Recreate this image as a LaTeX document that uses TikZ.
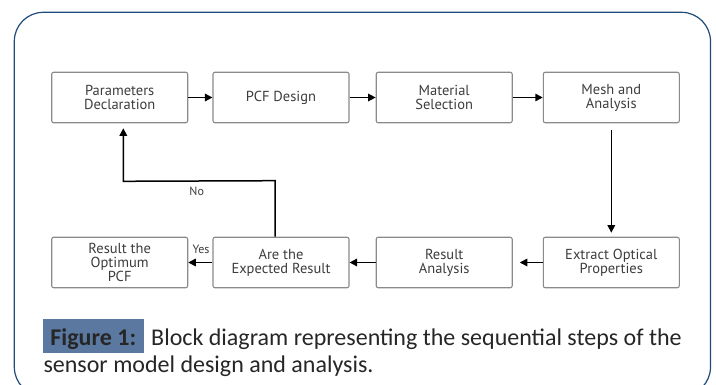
\documentclass[tikz,border=0pt]{standalone}
\usepackage{fontspec}
\setmainfont{Carlito}
\newfontfamily\boxfont{PT Sans}
\usetikzlibrary{arrows.meta,calc,positioning}
\definecolor{framenavy}{HTML}{1F4A7C}
\definecolor{capblue}{HTML}{5A78A0}
\definecolor{boxgray}{HTML}{8A8A8A}
\definecolor{textgray}{HTML}{3C3C3C}
\definecolor{captext}{HTML}{262626}

\begin{document}
\begin{tikzpicture}[x=1pt, y=-1pt, >={Triangle[length=7.5pt,width=7.5pt]},
  stepbox/.style={draw=boxgray, line width=1.1pt, rounded corners=2pt,
    minimum width=136pt, minimum height=50.5pt, inner sep=0pt, align=center,
    text=textgray, font=\boxfont\fontsize{14.5}{14}\selectfont},
  flow/.style={->, line width=1.5pt, black},
  tag/.style={text=textgray, font=\boxfont\fontsize{12}{12}\selectfont, inner sep=0pt}]
  \useasboundingbox (0,0) rectangle (716,385);
  % outer frame, open at the bottom
  \begin{scope}
    \clip (0,0) rectangle (716,385);
    \draw[framenavy, line width=1.2pt, rounded corners=29pt] (14.3,12.3) rectangle (710.5,396);
  \end{scope}
  % top row
  \node[stepbox] (param) at (119.7,97.5) {Parameters\\Declaration};
  \node[stepbox] (design) at (281,97.5) {PCF Design};
  \node[stepbox] (material) at (444.2,97.5) {Material\\Selection};
  \node[stepbox] (mesh) at (611.3,97.5) {Mesh and\\Analysis};
  % bottom row
  \node[stepbox] (optimum) at (119.7,262.5) {Result the\\Optimum\\PCF};
  \node[stepbox] (expected) at (281,262.5) {Are the\\Expected Result};
  \node[stepbox] (resana) at (444.2,262.5) {Result\\Analysis};
  \node[stepbox] (extract) at (611.3,262.5) {Extract Optical\\Properties};
  % connectors
  \draw[flow] (param) -- (design);
  \draw[flow] (design) -- (material);
  \draw[flow] (material) -- (mesh);
  \draw[flow, shorten <=7pt, shorten >=4pt] (mesh) -- (extract);
  \draw[flow, shorten >=7pt] (extract) -- (resana);
  \draw[flow] (resana) -- (expected);
  \draw[flow] (expected) -- (optimum);
  \coordinate (turnR) at ($(expected.north)+(-6,-56)$);
  \coordinate (turnL) at ($(param.south)+(3.6,58)$);
  \draw[flow, shorten >=5pt] ($(expected.north)+(-6,0)$) -- (turnR) -- (turnL) -- ($(param.south)+(3.6,0)$);
  \node[tag] (yes) at (201,249) {Yes};
  \node[tag] (no) at (196.7,191.5) {No};
  % caption
  \fill[capblue] (42.7,319.3) rectangle (144,352.7);
  \node[anchor=base, text=captext, font=\fontsize{24}{24}\selectfont\bfseries, inner sep=0pt] (figtag) at (93.3,345) {Figure 1:};
  \node[anchor=base west, text=captext, font=\fontsize{24}{24}\selectfont, inner sep=0pt] (capone) at (151,345) {Block diagram representing the sequential steps of the};
  \node[anchor=base west, text=captext, font=\fontsize{24}{24}\selectfont, inner sep=0pt] (captwo) at (43.3,373) {sensor model design and analysis.};
\end{tikzpicture}
\end{document}
